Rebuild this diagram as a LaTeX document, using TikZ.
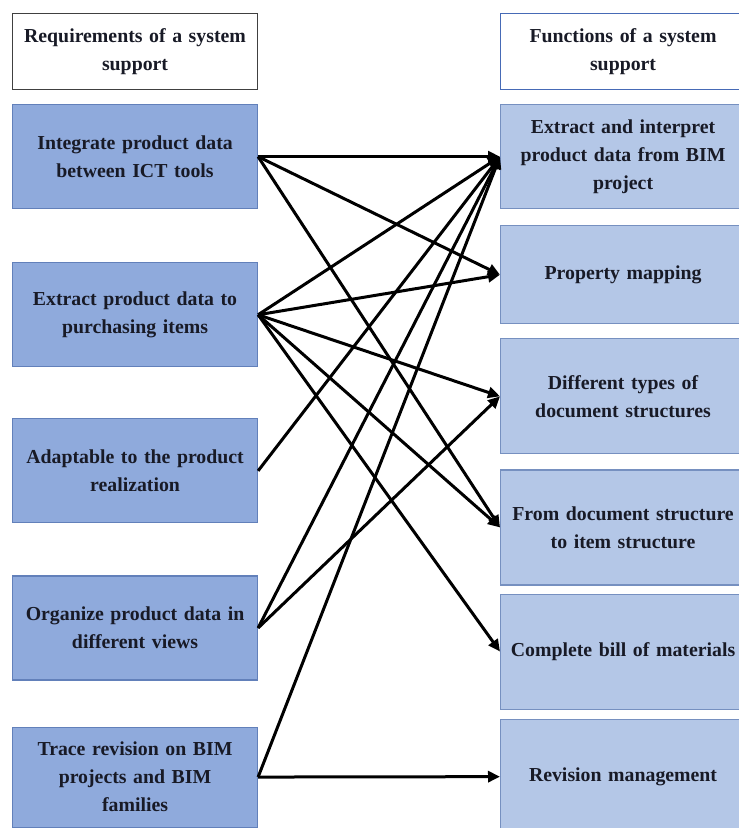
\documentclass[tikz,border=0pt]{standalone}
\usepackage{fontspec}
\setmainfont{Liberation Serif}
\usepackage{xcolor}
\usetikzlibrary{arrows.meta,positioning}
\definecolor{reqblue}{RGB}{143,170,220}
\definecolor{funblue}{RGB}{180,199,231}
\definecolor{reqline}{RGB}{98,128,186}
\definecolor{funline}{RGB}{118,144,192}
\definecolor{headline}{RGB}{64,64,64}
\definecolor{headblue}{RGB}{70,106,182}
\definecolor{boxtext}{RGB}{24,26,38}

\begin{document}
\begin{tikzpicture}[x=1pt,y=1pt,
node distance=15pt,
box/.style={draw,line width=1.1pt,align=center,minimum width=245pt,text width=235pt,inner sep=0pt,font=\bfseries\fontsize{19.8}{28}\selectfont,text=boxtext},
head/.style={box,fill=white,draw=headline,minimum height=76pt},
req/.style={box,fill=reqblue,draw=reqline,minimum height=104pt},
func/.style={box,fill=funblue,draw=funline,minimum height=115pt},
arr/.style={-{Triangle[length=12pt,width=11pt]},line width=3pt}
]
\useasboundingbox (0,0) rectangle (739,-828);
% requirements
\node[head,anchor=north west] (reqhead) at (12,-13) {Requirements of a system\\support};
\node[req,below=14pt of reqhead] (req1) {Integrate product data\\between ICT tools};
\node[req,below=53pt of req1] (req2) {Extract product data to\\purchasing items};
\node[req,below=51pt of req2] (req3) {Adaptable to the product\\realization};
\node[req,below=52pt of req3] (req4) {Organize product data in\\different views};
\node[req,below=46pt of req4,minimum height=100pt] (req5) {Trace revision on BIM\\projects and BIM\\families};
% functions
\node[head,draw=headblue,anchor=north west] (funhead) at (500,-13) {Functions of a system\\support};
\node[func,minimum height=104pt,below=14pt of funhead] (fun1) {Extract and interpret\\product data from BIM\\project};
\node[func,minimum height=98pt,below=16pt of fun1] (fun2) {Property mapping};
\node[func,below=14pt of fun2] (fun3) {Different types of\\document structures};
\node[func,below=15pt of fun3] (fun4) {From document structure\\to item structure};
\node[func,below=8pt of fun4] (fun5) {Complete bill of materials};
\node[func,below=9pt of fun5] (fun6) {Revision management};
% links
\draw[arr] (req1.east)--(fun1.west);
\draw[arr] (req1.east)--(fun2.west);
\draw[arr] (req1.east)--(fun4.west);
\draw[arr] (req2.east)--(fun1.west);
\draw[arr] (req2.east)--(fun2.west);
\draw[arr] (req2.east)--(fun3.west);
\draw[arr] (req2.east)--(fun4.west);
\draw[arr] (req2.east)--(fun5.west);
\draw[arr] (req3.east)--(fun1.west);
\draw[arr] (req4.east)--(fun1.west);
\draw[arr] (req4.east)--(fun3.west);
\draw[arr] (req5.east)--(fun1.west);
\draw[arr] (req5.east)--(fun6.west);
\end{tikzpicture}
\end{document}
